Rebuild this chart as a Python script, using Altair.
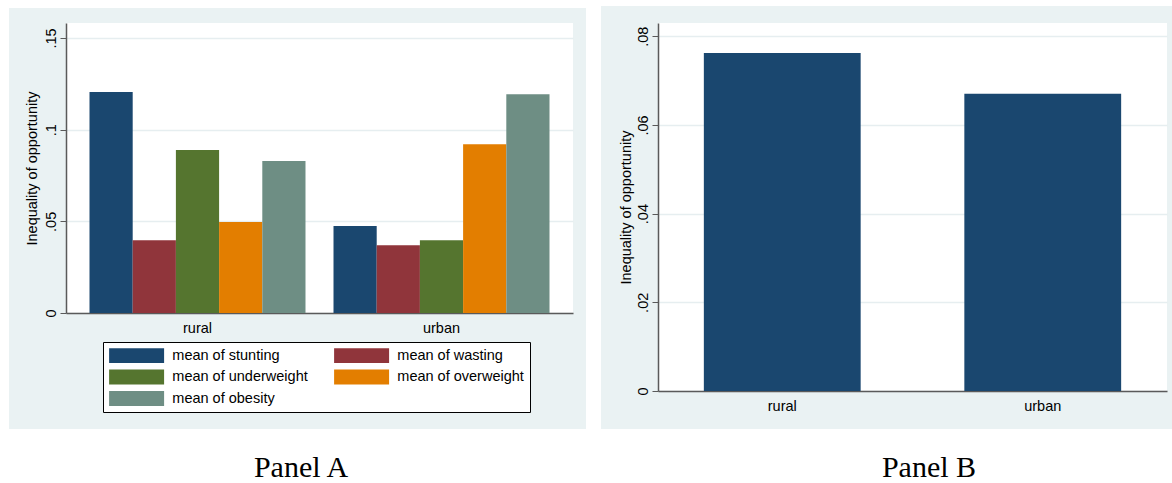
import altair as alt
import pandas as pd

# Inequality of opportunity by area and outcome
areas = ["rural", "urban"]
measures = ["mean of stunting", "mean of wasting", "mean of underweight",
            "mean of overweight", "mean of obesity"]
rural_iop = [0.1205, 0.0397, 0.0889, 0.0497, 0.0829]
urban_iop = [0.0474, 0.0370, 0.0397, 0.0921, 0.1193]
measure_colors = ["#1a476f", "#90353b", "#55752f", "#e37e00", "#6e8e84"]

# Overall index by area
overall_iop = [0.0762, 0.0670]

ticks_a = [0, 0.05, 0.10, 0.15]
ticks_b = [0, 0.02, 0.04, 0.06, 0.08]

BG = "#eaf2f3"
AXIS = "#5a5a5a"
GRID = "#e6eef0"
FONT = "Liberation Sans"
FS = 14.5

one_row = pd.DataFrame({"k": [0]})


def strip(x0, x1, y0, y1):
    """White filler around a panel's shaded backdrop."""
    return alt.Chart(one_row).mark_rect(color="white", strokeWidth=0).encode(
        x=alt.value(x0), x2=alt.value(x1), y=alt.value(y0), y2=alt.value(y1))


def caption(text, cx, base):
    return alt.Chart(one_row).mark_text(
        font="Liberation Serif", fontSize=30, baseline="alphabetic",
        align="center", color="black").encode(
        x=alt.value(cx), y=alt.value(base), text=alt.value(text))


def y_axis(values, title_x, title_y):
    return alt.Axis(
        values=values,
        labelExpr="datum.value == 0 ? '0' : replace(format(datum.value, '.2~f'), '0.', '.')",
        labelAngle=270, labelAlign="center", labelBaseline="bottom",
        labelPadding=2, labelFont=FONT, labelFontSize=FS, labelColor="black",
        labelOverlap=False,
        tickSize=6, tickColor=AXIS, tickWidth=1,
        domainColor=AXIS, domainWidth=1.5,
        grid=True, gridColor=GRID, gridWidth=1.5,
        title="Inequality of opportunity", titleFont=FONT, titleFontSize=FS,
        titleFontWeight="normal", titleColor="black", titleAngle=270,
        titleAlign="center", titleBaseline="alphabetic",
        titleX=title_x, titleY=title_y)


x_axis = alt.Axis(title=None, labelAngle=0, ticks=False, tickSize=0,
                  labelPadding=8, labelFont=FONT, labelFontSize=FS,
                  labelColor="black", domainColor=AXIS, domainWidth=1.5,
                  grid=False)

# Wide legend swatch: a 55 x 15 px bar drawn from a small nominal symbol size
# so that each legend row stays only as tall as the swatch.
SWATCH_PATH = "M-3.716,-1H3.716V1H-3.716Z"
SWATCH_SIZE = 219

# ---- Panel A: five outcomes per area ----
df_a = pd.DataFrame({
    "area": [a for a in areas for _ in measures],
    "measure": measures * 2,
    "iop": rural_iop + urban_iop,
})

bars_a = alt.Chart(df_a).mark_bar(strokeWidth=0).encode(
    x=alt.X("area:N", sort=areas,
            scale=alt.Scale(paddingInner=0.1148, paddingOuter=0.0963),
            axis=x_axis),
    xOffset=alt.XOffset("measure:N", sort=measures,
                        scale=alt.Scale(paddingInner=0, paddingOuter=0)),
    y=alt.Y("iop:Q", scale=alt.Scale(domain=[0, 0.1582], nice=False),
            axis=y_axis(ticks_a, -30, 145)),
    color=alt.Color(
        "measure:N", sort=measures,
        scale=alt.Scale(domain=measures, range=measure_colors),
        legend=alt.Legend(
            title=None, orient="none", legendX=37, legendY=319,
            direction="horizontal", columns=2,
            symbolType=SWATCH_PATH, symbolSize=SWATCH_SIZE,
            symbolOffset=20.1,
            symbolStrokeWidth=0, symbolOpacity=1,
            labelFont=FONT, labelFontSize=FS, labelColor="black",
            labelOffset=28.2, labelLimit=300,
            columnPadding=26, rowPadding=5.5, padding=6,
            strokeColor="black", fillColor="white")),
)

panel_a = alt.layer(
    strip(-66, -57, -23, 460),
    strip(-66, 535, -23, -15),
    strip(520, 535, -23, 460),
    strip(-66, 535, 406, 460),
    bars_a,
    caption("Panel A", 235, 454),
).properties(width=507, height=290)

# ---- Panel B: overall index per area ----
df_b = pd.DataFrame({"area": areas, "iop": overall_iop})

bars_b = alt.Chart(df_b).mark_bar(color="#1a476f", strokeWidth=0).encode(
    x=alt.X("area:N", sort=areas,
            scale=alt.Scale(paddingInner=0.398, paddingOuter=0.176),
            axis=x_axis),
    y=alt.Y("iop:Q", scale=alt.Scale(domain=[0, 0.08298], nice=False),
            axis=y_axis(ticks_b, -28, 184)),
)

panel_b = alt.layer(
    strip(-57, 514, -23, -17),
    strip(-57, 514, 406, 460),
    bars_b,
    caption("Panel B", 271, 454),
).properties(width=509, height=368)

chart = alt.hconcat(panel_a, panel_b, spacing=0).properties(
    padding=0, background=BG
).configure_view(fill="white", strokeWidth=0).configure_legend(strokeWidth=1)

chart.save("out.html", embed_options={"renderer": "svg", "actions": False})
